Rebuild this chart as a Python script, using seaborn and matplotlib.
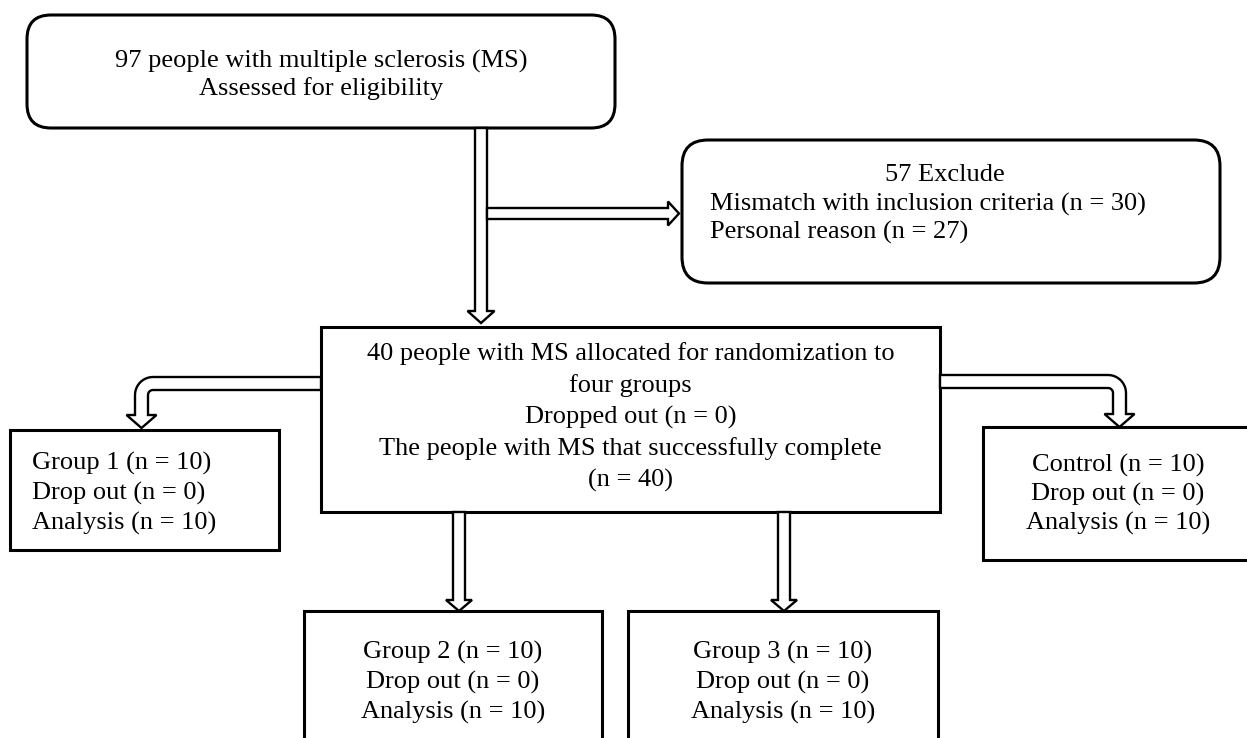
import numpy as np
import matplotlib
matplotlib.use("Agg")
import matplotlib.pyplot as plt
import seaborn as sns
from matplotlib.patches import FancyBboxPatch, Rectangle, Polygon

# flowchart texts (participant flow)
screen_lines = ["97 people with multiple sclerosis (MS)", "Assessed for eligibility"]
exclude_title = "57 Exclude"
exclude_lines = ["Mismatch with inclusion criteria (n = 30)", "Personal reason (n = 27)"]
alloc_lines = ["40 people with MS allocated for randomization to", "four groups",
               "Dropped out (n = 0)", "The people with MS that successfully complete", "(n = 40)"]
group_names = ["Group 1", "Group 2", "Group 3", "Control"]
group_n = [10, 10, 10, 10]
group_drop = [0, 0, 0, 0]
group_analysis = [10, 10, 10, 10]

sns.set_theme(style="white")
plt.rcParams["font.family"] = ["Liberation Serif", "DejaVu Serif"]
FS = 19.0

W, H = 1247, 738
fig = plt.figure(figsize=(W / 100, H / 100), dpi=100)
ax = fig.add_axes([0, 0, 1, 1])
ax.set_xlim(0, W)
ax.set_ylim(H, 0)
ax.set_axis_off()
sns.despine(ax=ax, left=True, bottom=True)


def rbox(x0, y0, x1, y1, r=None, lw=2.2):
    if r is None:
        p = Rectangle((x0, y0), x1 - x0, y1 - y0, fc="white", ec="black", lw=lw, zorder=2)
    else:
        p = FancyBboxPatch((x0, y0), x1 - x0, y1 - y0, boxstyle=f"round,pad=0,rounding_size={r}",
                           fc="white", ec="black", lw=lw, zorder=2)
    ax.add_patch(p)


def straight_arrow(x0, y0, x1, y1, w=12, hw=14, hl=12):
    d = np.array([x1 - x0, y1 - y0], float)
    L = np.hypot(*d)
    u = d / L
    n = np.array([-u[1], u[0]])
    s = np.array([x0, y0], float)
    b = s + u * (L - hl)
    pts = [s + n * w / 2, b + n * w / 2, b + n * hw, s + u * L, b - n * hw, b - n * w / 2, s - n * w / 2]
    ax.add_patch(Polygon(pts, closed=True, fc="white", ec="black", lw=1.7, zorder=3, joinstyle="miter"))


def bent_arrow(xs, xc, yt, yb, ytip, w=13, hw=15, hl=13, R=18, r=5, side=-1):
    # horizontal shaft from xs (box edge) to a rounded corner, then down to a head at ytip
    xo = xc + side * w / 2
    xi = xc - side * w / 2
    yh = ytip - hl
    pts = [(xs, yt)]
    phi = np.linspace(0, np.pi / 2, 12)
    cx, cy = xo - side * R, yt + R
    pts += [(cx + side * R * np.sin(p), cy - R * np.cos(p)) for p in phi]
    pts += [(xo, yh), (xc + side * hw, yh), (xc, ytip), (xc - side * hw, yh), (xi, yh)]
    cx, cy = xi - side * r, yb + r
    pts += [(cx + side * r * np.sin(p), cy - r * np.cos(p)) for p in phi[::-1]]
    pts += [(xs, yb)]
    ax.add_patch(Polygon(pts, closed=True, fc="white", ec="black", lw=1.7, zorder=3))


# boxes
rbox(27, 15, 615, 128, r=24)
rbox(682, 140, 1220, 283, r=26)
rbox(321, 327, 940, 512)
rbox(10, 430, 279, 550)
rbox(983, 427, 1265, 560)
rbox(304, 611, 602, 760)
rbox(628, 611, 938, 760)

# arrows
straight_arrow(481, 128, 481, 323, hw=13.5, hl=12)
straight_arrow(487, 213.5, 679, 213.5, w=11, hw=12, hl=11)
straight_arrow(459, 512, 459, 611, hw=13, hl=11)
straight_arrow(784, 512, 784, 611, hw=13, hl=11)
bent_arrow(321, 141.5, 377, 390, 428, side=-1)
bent_arrow(940, 1119.5, 375, 388, 427, side=1)

txt = dict(fontsize=FS, color="black", va="center", zorder=5)
for i, s in enumerate(screen_lines):
    ax.text(321, 61 + i * 28, s, ha="center", **txt)
ax.text(945, 175, exclude_title, ha="center", **txt)
for i, s in enumerate(exclude_lines):
    ax.text(710, 204 + i * 28.5, s, ha="left", **txt)
for i, s in enumerate(alloc_lines):
    ax.text(630.5, 354 + i * 31.5, s, ha="center", **txt)


def group_text(k):
    return [f"{group_names[k]} (n = {group_n[k]})", f"Drop out (n = {group_drop[k]})",
            f"Analysis (n = {group_analysis[k]})"]


for i, s in enumerate(group_text(0)):
    ax.text(32, 463 + i * 30, s, ha="left", **txt)
for i, s in enumerate(group_text(3)):
    ax.text(1118, 465 + i * 29, s, ha="center", **txt)
for i, s in enumerate(group_text(1)):
    ax.text(453, 652 + i * 30, s, ha="center", **txt)
for i, s in enumerate(group_text(2)):
    ax.text(783, 652 + i * 30, s, ha="center", **txt)

fig.savefig("out.png", dpi=100, facecolor="white")
